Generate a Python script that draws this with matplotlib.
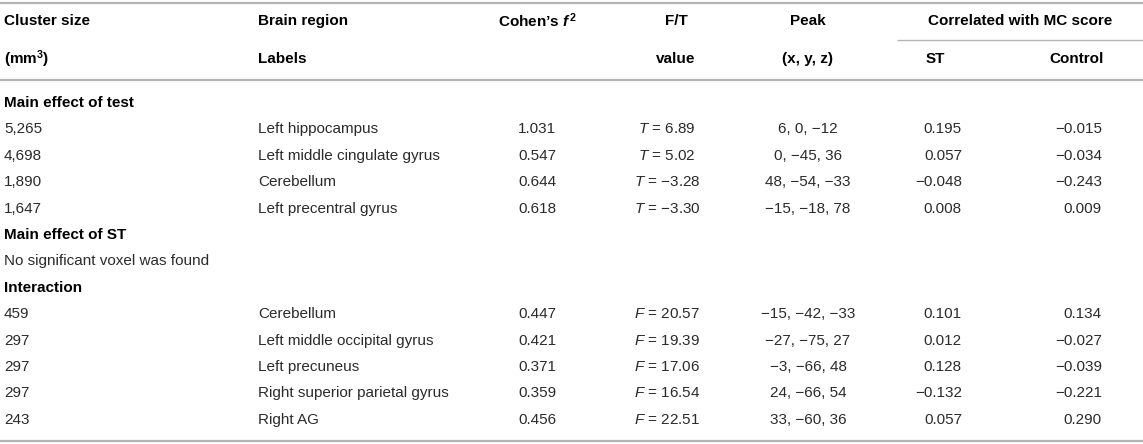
import matplotlib
matplotlib.use("Agg")
import matplotlib.pyplot as plt

plt.rcParams['font.family'] = ['Liberation Sans', 'DejaVu Sans']
plt.rcParams['mathtext.fontset'] = 'custom'
plt.rcParams['mathtext.rm'] = 'Liberation Sans'
plt.rcParams['mathtext.it'] = 'Liberation Sans:italic'
plt.rcParams['mathtext.bf'] = 'Liberation Sans:bold'
plt.rcParams['mathtext.bfit'] = 'Liberation Sans:italic:bold'

# table content
header1 = ["Cluster size", "Brain region", "Cohen\u2019s $\\mathbfit{f}^{\\,\\mathbf{2}}$", "F/T", "Peak"]
header2 = [r"(mm$^{\mathbf{3}}$)", "Labels", "", "value", "(x, y, z)"]
corr_title = "Correlated with MC score"
corr_cols = ["ST", "Control"]

section_test = "Main effect of test"
test_sizes = ["5,265", "4,698", "1,890", "1,647"]
test_regions = ["Left hippocampus", "Left middle cingulate gyrus", "Cerebellum", "Left precentral gyrus"]
test_cohen = [1.031, 0.547, 0.644, 0.618]
test_t = [6.89, 5.02, -3.28, -3.30]
test_peak = [(6, 0, -12), (0, -45, 36), (48, -54, -33), (-15, -18, 78)]
test_st = [0.195, 0.057, -0.048, 0.008]
test_ctrl = [-0.015, -0.034, -0.243, 0.009]

section_st = "Main effect of ST"
st_note = "No significant voxel was found"

section_inter = "Interaction"
inter_sizes = ["459", "297", "297", "297", "243"]
inter_regions = ["Cerebellum", "Left middle occipital gyrus", "Left precuneus",
                 "Right superior parietal gyrus", "Right AG"]
inter_cohen = [0.447, 0.421, 0.371, 0.359, 0.456]
inter_f = [20.57, 19.39, 17.06, 16.54, 22.51]
inter_peak = [(-15, -42, -33), (-27, -75, 27), (-3, -66, 48), (24, -66, 54), (33, -60, 36)]
inter_st = [0.101, 0.012, 0.128, -0.132, 0.057]
inter_ctrl = [0.134, -0.027, -0.039, -0.221, 0.290]


def num(v, fmt):
    return (fmt % v).replace('-', '\u2212')


def peak(p):
    return ", ".join(num(c, "%d") for c in p)


W, H = 1143, 444
fig = plt.figure(figsize=(W / 100, H / 100), dpi=100)
ax = fig.add_axes([0, 0, 1, 1])
ax.set_xlim(0, W)
ax.set_ylim(H, 0)
ax.axis('off')

FS = 11
TXT = '#2b2b2b'
LINE = '#b4b4b4'

x_size, x_region = 4, 258
x_cohen, x_ft, x_ft_val, x_peak = 537, 676, 667, 808
x_st_head, x_st = 935, 962
x_ctrl_head, x_ctrl = 1077, 1102
x_corr = 1020

# rules
ax.plot([0, W], [3, 3], color=LINE, lw=1.6, solid_capstyle='butt')
ax.plot([897, W], [40, 40], color=LINE, lw=1.0, solid_capstyle='butt')
ax.plot([0, W], [80, 80], color=LINE, lw=1.6, solid_capstyle='butt')
ax.plot([0, W], [441, 441], color=LINE, lw=1.6, solid_capstyle='butt')

hy1, hy2 = 21, 59
bold = dict(fontsize=FS, fontweight='bold', color='black', va='center')
ax.text(x_size, hy1, header1[0], ha='left', **bold)
ax.text(x_region, hy1, header1[1], ha='left', **bold)
ax.text(x_cohen, hy1, header1[2], ha='center', **bold)
ax.text(x_ft, hy1, header1[3], ha='center', **bold)
ax.text(x_peak, hy1, header1[4], ha='center', **bold)
ax.text(x_corr, hy1, corr_title, ha='center', **bold)
ax.text(x_size, hy2, header2[0], ha='left', **bold)
ax.text(x_region, hy2, header2[1], ha='left', **bold)
ax.text(x_ft, hy2, header2[3], ha='center', **bold)
ax.text(x_peak, hy2, header2[4], ha='center', **bold)
ax.text(x_st_head, hy2, corr_cols[0], ha='center', **bold)
ax.text(x_ctrl_head, hy2, corr_cols[1], ha='center', **bold)

y0, dy = 103, 26.4
norm = dict(fontsize=FS, color=TXT, va='center')


def data_row(y, size, region, cohen, stat, letter, pk, st, ctrl):
    ax.text(x_size, y, size, ha='left', **norm)
    ax.text(x_region, y, region, ha='left', **norm)
    ax.text(x_cohen, y, num(cohen, "%.3f"), ha='center', **norm)
    ax.text(x_ft_val, y, r"$\mathit{%s}$ = %s" % (letter, num(stat, "%.2f")), ha='center', **norm)
    ax.text(x_peak, y, peak(pk), ha='center', **norm)
    ax.text(x_st, y, num(st, "%.3f"), ha='right', **norm)
    ax.text(x_ctrl, y, num(ctrl, "%.3f"), ha='right', **norm)


row = 0
ax.text(x_size, y0 + row * dy, section_test, ha='left', **bold)
row += 1
for i in range(len(test_sizes)):
    data_row(y0 + row * dy, test_sizes[i], test_regions[i], test_cohen[i], test_t[i], 'T',
             test_peak[i], test_st[i], test_ctrl[i])
    row += 1
ax.text(x_size, y0 + row * dy, section_st, ha='left', **bold)
row += 1
ax.text(x_size, y0 + row * dy, st_note, ha='left', **norm)
row += 1
ax.text(x_size, y0 + row * dy, section_inter, ha='left', **bold)
row += 1
for i in range(len(inter_sizes)):
    data_row(y0 + row * dy, inter_sizes[i], inter_regions[i], inter_cohen[i], inter_f[i], 'F',
             inter_peak[i], inter_st[i], inter_ctrl[i])
    row += 1

fig.savefig("out.png", dpi=100)
